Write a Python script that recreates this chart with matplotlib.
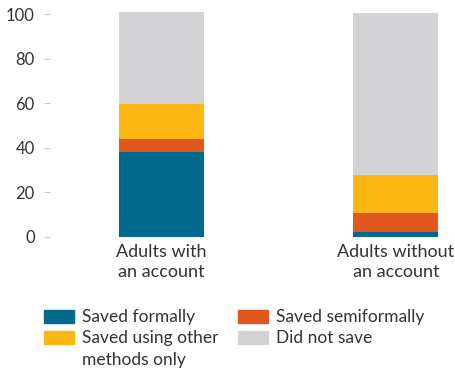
import matplotlib.pyplot as plt
from matplotlib.patches import Rectangle

plt.rcParams['font.family'] = ['Lato', 'DejaVu Sans']

groups = ['Adults with\nan account', 'Adults without\nan account']
saved_formally = [38, 2]
saved_semiformally = [6, 8.5]
saved_other = [15.6, 17.2]
did_not_save = [41.5, 72.7]

series = [
    ('Saved formally', saved_formally, '#006a8e'),
    ('Saved semiformally', saved_semiformally, '#e25720'),
    ('Saved using other\nmethods only', saved_other, '#fbb815'),
    ('Did not save', did_not_save, '#d3d3d5'),
]

W, H = 455, 371
fig = plt.figure(figsize=(W / 100, H / 100), dpi=100)
ax = fig.add_axes([0.110, 0.362, 0.868, 0.612])

x = [0, 1]
bottom = [0, 0]
for name, vals, col in series:
    ax.bar(x, vals, bottom=bottom, width=0.363, color=col, label=name)
    bottom = [b + v for b, v in zip(bottom, vals)]

ax.set_xlim(-0.476, 1.21)
ax.set_ylim(0, 102)
ax.set_yticks(range(0, 101, 20))
ax.set_xticks(x)
ax.set_xticklabels(groups, linespacing=1.3)
for s in ax.spines.values():
    s.set_visible(False)
ax.tick_params(axis='y', length=4, color='#c8c8c8', pad=7, labelsize=12, labelcolor='#333333')
ax.tick_params(axis='x', length=0, pad=5, labelsize=13, labelcolor='#333333')

# legend: 2 columns, handle aligned with first text line
slots = {
    'Saved formally': (44, 310),
    'Saved using other\nmethods only': (44, 331),
    'Saved semiformally': (238, 310),
    'Did not save': (238, 331),
}
for name, _, col in series:
    px, py = slots[name]
    fig.add_artist(Rectangle((px / W, 1 - (py + 13) / H), 30 / W, 13 / H,
                             transform=fig.transFigure, color=col))
    fig.text((px + 38) / W, 1 - (py - 1) / H, name, ha='left', va='top',
             fontsize=12.5, color='#333333', linespacing=1.45)

fig.savefig('out.png', dpi=100)
